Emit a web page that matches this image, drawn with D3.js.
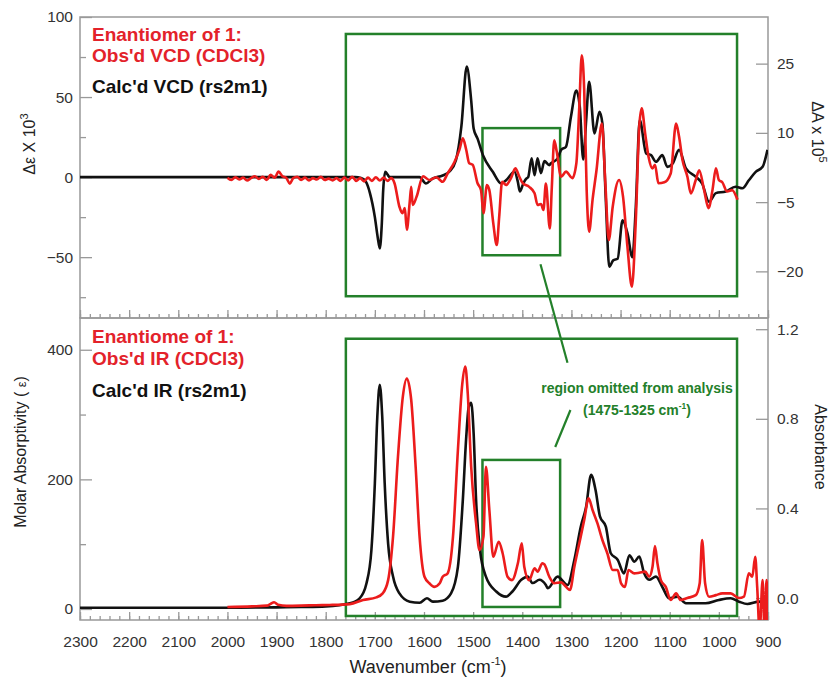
<!DOCTYPE html>
<html>
<head>
<meta charset="utf-8">
<script src="https://cdn.jsdelivr.net/npm/d3@7"></script>
<style>
body{margin:0;background:#fff;}
text{font-family:"Liberation Sans",Arial,sans-serif;}
</style>
</head>
<body>
<svg id="chart"></svg>
<script>
// wavenumber (cm-1), value pairs
var calcVCD = [[2300,0],[1740,0],[1728,-0.5],[1718,-3],[1710,-10],[1700,-25],[1694,-38],[1690,-44.5],[1686,-30],[1683,-8],[1679,3.3],[1674,1.5],[1670,0],
  [1609,0],[1596,-4],[1583,-1],[1562,1],[1548,3.5],[1535,10.6],[1524,31.5],[1513,69],[1504,48],[1499,30.4],[1491,24],[1480,13.7],[1460,3.3],
  [1443,-4],[1433,-2],[1416,3.3],[1409,-3],[1405,-9],[1398,-4],[1392,-1],[1388,0],[1381,11.7],[1375,1.2],[1369,11.7],[1362,2.5],[1355,10],
  [1345,7.5],[1342,8.5],[1328,11.7],[1321,17],[1311,19],[1301,37.7],[1290,54],[1283,44],[1276,11],[1270,35.6],[1264,59.6],[1253,27.3],[1243,40.8],
  [1237,33.5],[1230,-14.4],[1223,-56],[1215,-52],[1206,-51],[1196,-27],[1186,-35],[1176,-50],[1169,-18.5],[1161,35.6],[1148,14.8],[1138,13.7],
  [1128,9.6],[1115,13.7],[1105,6.4],[1094,8.5],[1081,17],[1067,5.4],[1047,0.2],[1034,-4],[1020,-15.4],[1006,-10],[986,-9],[966,-6],[952,-7],
  [939,-2],[925,3.3],[911,6.4],[901,17]];

var obsVCD = [[2000,0.3],[1992,-0.2],[1984,0.4],[1976,-0.1],[1968,0.3],[1960,-0.3],[1952,0.2],[1944,0.6],[1936,0],[1928,0.5],[1920,-0.2],
  [1912,0.9],[1904,0.3],[1896,1.6],[1888,0.6],[1880,0.2],[1873,-1.0],[1866,0.2],[1858,0.5],[1850,-0.2],[1842,0.3],[1834,-0.3],[1826,0.2],
  [1818,-0.1],[1810,0.5],[1802,-0.2],[1794,0.1],[1786,-0.3],[1778,0.2],[1770,-0.4],[1762,0.3],[1754,-0.3],[1746,0.5],[1738,-0.4],[1730,0.2],
  [1722,-0.5],[1714,0.3],[1706,-0.4],[1698,0.4],[1690,-0.3],[1682,0.3],[1674,-0.4],[1667,0.2],[1660,-0.9],[1650,-6],[1644,-7.4],[1639,-6.3],
  [1635,-11],[1629,-4.9],[1626,-1.7],[1623,-5.6],[1615,-3.8],[1602,0.6],[1589,-0.2],[1575,0.4],[1562,-0.6],[1552,1.2],[1538,3.7],[1528,6.3],
  [1521,8.8],[1514,6.3],[1508,3.4],[1501,3.1],[1491,-0.9],[1484,-2.4],[1479,-7.4],[1472,-1.3],[1467,-2.4],[1459,-9.6],[1452,-14.3],[1447,-8.2],
  [1441,-0.6],[1433,-1.3],[1423,0.2],[1414,2.3],[1406,0.5],[1399,-0.9],[1386,-1.7],[1375,-3.1],[1369,-5.6],[1362,-5.4],[1357,-6.7],[1352,-1],
  [1344,-10.7],[1340,-2],[1335,8.4],[1330,6],[1321,0.5],[1311,1.6],[1298,0.2],[1290,3.4],[1284,15.6],[1279,26.8],[1274,19.3],[1269,-2.4],
  [1264,-11.4],[1257,-4.5],[1249,1.9],[1238,12],[1231,-0.9],[1224,-13.2],[1216,-6],[1203,-0.2],[1195,-3.8],[1186,-14.7],[1177,-23.3],[1169,-8.9],
  [1162,11.3],[1157,15.3],[1150,9.9],[1143,4.8],[1135,2.3],[1130,3.1],[1123,-0.9],[1111,-0.7],[1098,1.2],[1087,12],[1081,9.2],[1074,4.1],
  [1064,0.5],[1057,-3.1],[1047,-0.2],[1040,1.9],[1030,-2.4],[1021,-6.3],[1013,-2.4],[1006,2.3],[1000,-0.2],[993,-0.7],[983,-2.7],[973,-2.4],[962,-4.5]];

var calcIR = [[2300,2],[2000,2],[1900,2.5],[1850,3],[1800,4],[1751,8.8],[1731,16.5],[1717,39.7],[1707,91],[1700,194],[1695,297],[1690,346],
  [1685,297],[1680,194],[1673,101],[1663,50],[1650,24],[1629,11.3],[1609,9.7],[1594,16.5],[1582,11.3],[1562,12.8],[1545,24],[1531,65],[1521,168],
  [1514,266],[1509,312],[1504,318],[1499,271],[1494,168],[1486,91],[1474,50],[1453,27],[1433,19],[1420,27],[1402,45],[1389,50],[1379,40],
  [1365,45],[1352,37],[1348,32],[1328,50],[1308,37],[1294,76],[1281,127],[1270,158],[1260,207],[1251,184],[1242,143],[1230,127],[1220,86],
  [1206,76],[1193,55],[1182,83],[1172,73],[1162,81],[1152,55],[1142,45],[1128,50],[1115,34],[1101,16.5],[1084,19],[1067,8.8],[1027,8.8],
  [1000,13.9],[976,16.5],[959,11.3],[942,7.7],[918,11.3],[912,10]];

var obsIR = [[2000,-0.04],[1950,-0.037],[1920,-0.034],[1912,-0.026],[1905,-0.019],[1897,-0.03],[1880,-0.035],[1850,-0.034],[1820,-0.032],
  [1792,-0.031],[1751,-0.027],[1724,-0.009],[1697,0.003],[1684,0.021],[1673,0.08],[1663,0.274],[1653,0.63],[1643,0.9],[1635,0.98],[1626,0.884],
  [1617,0.586],[1609,0.274],[1599,0.095],[1589,0.066],[1579,0.05],[1568,0.066],[1562,0.095],[1552,0.11],[1541,0.274],[1531,0.66],[1522,0.958],
  [1516,1.033],[1511,0.914],[1504,0.586],[1494,0.333],[1487,0.214],[1479,0.274],[1474,0.586],[1467,0.393],[1459,0.184],[1448,0.251],[1440,0.2],
  [1430,0.095],[1421,0.08],[1409,0.155],[1401,0.244],[1396,0.14],[1386,0.08],[1375,0.133],[1369,0.118],[1359,0.155],[1355,0.15],[1345,0.095],
  [1335,0.066],[1321,0.07],[1311,0.05],[1303,0.036],[1294,0.14],[1284,0.244],[1274,0.348],[1265,0.445],[1257,0.393],[1247,0.333],[1237,0.259],
  [1227,0.2],[1216,0.125],[1206,0.125],[1199,0.066],[1191,0.05],[1184,0.125],[1172,0.11],[1162,0.113],[1150,0.118],[1142,0.095],[1135,0.14],
  [1130,0.232],[1125,0.155],[1118,0.08],[1108,0.05],[1098,-0.009],[1087,0.021],[1078,-0.009],[1064,0],[1047,0.013],[1039,0.066],[1034,0.259],
  [1028,0.066],[1020,0.006],[1006,0.013],[993,0.021],[976,0.021],[959,0],[949,0.006],[939,0.11],[932,0.095],[926,0.184],[922,0.05],[917,-0.15],
  [911,0.08],[907,-0.15],[903,0.08],[900,-0.15]];

// axis ticks
var xMajor = d3.range(2300, 899, -100);
var xMinor = d3.range(2300, 899, -20);
var topLeftTicks = [-50, 0, 50, 100];
var topLeftMinor = [-75, -25, 25, 75];
var topRightTicks = [-20, -5, 10, 25];
var botLeftTicks = [0, 200, 400];
var botLeftMinor = [100, 300];
var botRightTicks = [0, 0.4, 0.8, 1.2];

// green boxes: [wnFrom, wnTo, yHigh, yLow] in each panel's left-axis units
var topBoxes = [[1759, 963, 89.4, -74.4], [1481, 1323, 30.6, -48.8]];
var botBoxes = [[1759, 963, 417, -10.8], [1481, 1323, 230, 3.1]];

var W = 829, H = 680;
var RED = '#ec1c1c', GREEN = '#23802a', GRAY = '#999';
var svg = d3.select('#chart').attr('width', W).attr('height', H);

var x = d3.scaleLinear().domain([2300, 900]).range([80, 768]);
var yTopL = d3.scaleLinear().domain([-88, 100]).range([318, 17]);
var yTopR = d3.scaleLinear().domain([-30.1, 35.1]).range([318, 17]);
var yBotL = d3.scaleLinear().domain([-17, 449]).range([620, 318]);
var yBotR = d3.scaleLinear().domain([-0.098, 1.25]).range([620, 318]);

var defs = svg.append('defs');
defs.append('clipPath').attr('id', 'clipTop').append('rect')
  .attr('x', 80).attr('y', 17).attr('width', 688).attr('height', 301);
defs.append('clipPath').attr('id', 'clipBot').append('rect')
  .attr('x', 80).attr('y', 318).attr('width', 688).attr('height', 302);

function styleAxis(g, fs) {
  g.select('.domain').remove();
  g.selectAll('line').attr('stroke', GRAY).attr('stroke-width', 1.3);
  g.selectAll('text').attr('fill', '#333').style('font-size', fs + 'px')
    .style('font-family', '"Liberation Sans", Arial, sans-serif');
}

// x axes (ticks point inward)
[318, 620].forEach(function (yy, i) {
  var gMin = svg.append('g').attr('transform', 'translate(0,' + yy + ')')
    .call(d3.axisBottom(x).tickValues(xMinor).tickSize(-4).tickFormat(''));
  styleAxis(gMin, 15);
  var gMaj = svg.append('g').attr('transform', 'translate(0,' + yy + ')')
    .call(d3.axisBottom(x).tickValues(xMajor).tickSize(-8).tickPadding(16)
      .tickFormat(i === 1 ? d3.format('d') : ''));
  styleAxis(gMaj, 15.5);
});

function yAxes(sl, sr, major, minor, rticks, rfmt) {
  var g1 = svg.append('g').attr('transform', 'translate(80,0)')
    .call(d3.axisLeft(sl).tickValues(minor).tickSize(-6).tickFormat(''));
  styleAxis(g1, 15);
  var g2 = svg.append('g').attr('transform', 'translate(80,0)')
    .call(d3.axisLeft(sl).tickValues(major).tickSize(-12).tickPadding(7));
  styleAxis(g2, 15.5);
  var g3 = svg.append('g').attr('transform', 'translate(768,0)')
    .call(d3.axisRight(sr).tickValues(rticks).tickSize(-12).tickPadding(9).tickFormat(rfmt));
  styleAxis(g3, 15.5);
}
yAxes(yTopL, yTopR, topLeftTicks, topLeftMinor, topRightTicks, d3.format('d'));
yAxes(yBotL, yBotR, botLeftTicks, botLeftMinor, botRightTicks, d3.format('.1f'));

// frames
svg.append('rect').attr('x', 80).attr('y', 17).attr('width', 688).attr('height', 301)
  .attr('fill', 'none').attr('stroke', GRAY).attr('stroke-width', 1.5);
svg.append('rect').attr('x', 80).attr('y', 318).attr('width', 688).attr('height', 302)
  .attr('fill', 'none').attr('stroke', GRAY).attr('stroke-width', 1.5);

// green boxes
function boxes(list, ys) {
  svg.append('g').selectAll('rect').data(list).enter().append('rect')
    .attr('x', function (d) { return x(d[0]); })
    .attr('y', function (d) { return ys(d[2]); })
    .attr('width', function (d) { return x(d[1]) - x(d[0]); })
    .attr('height', function (d) { return ys(d[3]) - ys(d[2]); })
    .attr('fill', 'none').attr('stroke', GREEN).attr('stroke-width', 2.5);
}
boxes(topBoxes, yTopL);
boxes(botBoxes, yBotL);

// spectra
function drawLine(data, ys, color, clip) {
  var line = d3.line().x(function (d) { return x(d[0]); })
    .y(function (d) { return ys(d[1]); }).curve(d3.curveMonotoneX);
  svg.append('path').datum(data).attr('d', line)
    .attr('clip-path', 'url(#' + clip + ')')
    .attr('fill', 'none').attr('stroke', color).attr('stroke-width', 2.6)
    .attr('stroke-linejoin', 'round');
}
drawLine(calcVCD, yTopL, '#111', 'clipTop');
drawLine(obsVCD, yTopR, RED, 'clipTop');
drawLine(calcIR, yBotL, '#111', 'clipBot');
drawLine(obsIR, yBotR, RED, 'clipBot');

// connector lines
svg.append('line').attr('x1', x(1363)).attr('y1', yTopL(-54.4))
  .attr('x2', x(1308)).attr('y2', yBotL(380))
  .attr('stroke', GREEN).attr('stroke-width', 2.2);
svg.append('line').attr('x1', x(1302)).attr('y1', yBotL(307))
  .attr('x2', x(1333)).attr('y2', yBotL(250))
  .attr('stroke', GREEN).attr('stroke-width', 2.2);

// "cm-1" with superscript
function cmLabel(txt, tail, cx, cy, fs, weight, color) {
  var t = svg.append('text').attr('x', cx).attr('y', cy)
    .attr('text-anchor', 'middle').attr('fill', color)
    .style('font-size', fs + 'px').style('font-weight', weight);
  t.append('tspan').text(txt + 'cm');
  t.append('tspan').attr('dy', (-fs * 0.42))
    .style('font-size', (fs * 0.6) + 'px').text('-1');
  t.append('tspan').attr('dy', (fs * 0.42)).text(tail);
}

svg.append('text').attr('x', 637).attr('y', 393).attr('text-anchor', 'middle')
  .attr('fill', GREEN).style('font-size', '14px').style('font-weight', 'bold')
  .text('region omitted from analysis');
cmLabel('(1475-1325 ', ')', 637, 415, 14, 'bold', GREEN);
cmLabel('Wavenumber (', ')', 428, 673, 18, 'normal', '#222');

// legends
function legend(lines) {
  lines.forEach(function (l) {
    svg.append('text').attr('x', 92).attr('y', l[1]).attr('fill', l[2])
      .style('font-size', '19px').style('font-weight', 'bold').text(l[0]);
  });
}
legend([['Enantiomer of 1:', 41, '#e3222a'], ["Obs'd VCD (CDCl3)", 62, '#e3222a'], ["Calc'd VCD (rs2m1)", 93, '#111']]);
legend([['Enantiome of 1:', 343, '#e3222a'], ["Obs'd IR (CDCl3)", 365, '#e3222a'], ["Calc'd IR (rs2m1)", 397, '#111']]);

// axis titles
function vtitle(cx, cy, rot, parts, fs) {
  var t = svg.append('text').attr('transform', 'translate(' + cx + ',' + cy + ') rotate(' + rot + ')')
    .attr('text-anchor', 'middle').attr('fill', '#222').style('font-size', fs + 'px');
  parts.forEach(function (p) {
    var s = t.append('tspan').text(p[0]);
    if (p[1] !== undefined) s.attr('dy', p[1]).style('font-size', p[2] + 'px');
  });
}
vtitle(35, 144, -90, [['\u0394\u03b5 X 10'], ['3', -7, 11]], 16);
vtitle(812, 132, 90, [['\u0394A x 10'], ['5', -7, 11]], 16);
vtitle(26, 452, -90, [['Molar Absorptivity ( '], ['\u03b5', 0, 13], [')', 0, 16]], 16);
vtitle(815, 447, 90, [['Absorbance']], 16);
</script>
</body>
</html>
